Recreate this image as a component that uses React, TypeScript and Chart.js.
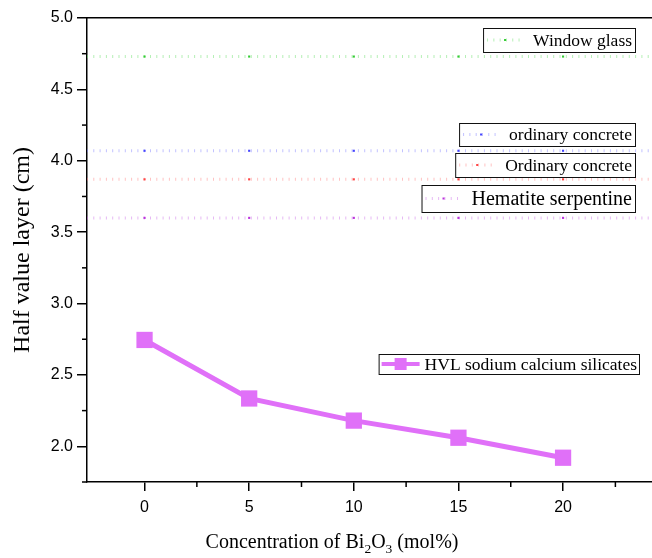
import { useEffect, useRef } from 'react';
import { Chart, registerables } from 'chart.js';

Chart.register(...registerables);

// ---- data ----
const CONCENTRATION = [0, 5, 10, 15, 20];
const HVL_SODIUM_CALCIUM_SILICATES = [2.745, 2.335, 2.18, 2.06, 1.92];

// reference materials (constant HVL), drawn across the whole axis range
const REF_X = [-2.75, 0, 5, 10, 15, 20, 24.25];
const WINDOW_GLASS = [4.73, 4.73, 4.73, 4.73, 4.73, 4.73, 4.73];
const ORDINARY_CONCRETE_A = [4.07, 4.07, 4.07, 4.07, 4.07, 4.07, 4.07];
const ORDINARY_CONCRETE_B = [3.87, 3.87, 3.87, 3.87, 3.87, 3.87, 3.87];
const HEMATITE_SERPENTINE = [3.6, 3.6, 3.6, 3.6, 3.6, 3.6, 3.6];

const X_TICKS = [0, 5, 10, 15, 20];
const X_MINOR = [2.5, 7.5, 12.5, 17.5, 22.5];
const Y_TICKS = [2.0, 2.5, 3.0, 3.5, 4.0, 4.5, 5.0];
const Y_MINOR = [1.75, 2.25, 2.75, 3.25, 3.75, 4.25, 4.75];

const X_MIN = -2.75;
const X_MAX = 24.25;
const Y_MIN = 1.75;
const Y_MAX = 5.0;

const SERIF = '"Liberation Serif", "Times New Roman", serif';
const SANS = '"Liberation Sans", Arial, sans-serif';
const MAGENTA = '#e070f8';

const REF_STYLES = [
  { label: 'Window glass', data: WINDOW_GLASS, line: 'rgba(110,225,110,0.5)', dot: '#33cc33', font: 17.5, top: 28, bottom: 52 },
  { label: 'ordinary concrete', data: ORDINARY_CONCRETE_A, line: 'rgba(120,120,255,0.45)', dot: '#4444ff', font: 17.5, top: 123, bottom: 146 },
  { label: 'Ordinary concrete', data: ORDINARY_CONCRETE_B, line: 'rgba(255,120,120,0.45)', dot: '#ff4444', font: 17.5, top: 153, bottom: 177 },
  { label: 'Hematite serpentine', data: HEMATITE_SERPENTINE, line: 'rgba(200,100,230,0.45)', dot: '#bb33dd', font: 20, top: 185, bottom: 212 },
];

function drawRefLegend(ctx: CanvasRenderingContext2D, s: any, right: number) {
  ctx.save();
  ctx.font = `${s.font}px ${SERIF}`;
  const tw = ctx.measureText(s.label).width;
  const textRight = right - 3;
  const textLeft = textRight - tw;
  const sampleEnd = textLeft - 10;
  const sampleStart = sampleEnd - 36;
  const left = sampleStart - 4;
  const midY = (s.top + s.bottom) / 2;
  ctx.fillStyle = '#fff';
  ctx.fillRect(left, s.top, right - left, s.bottom - s.top);
  ctx.strokeStyle = '#111';
  ctx.lineWidth = 1;
  ctx.strokeRect(left + 0.5, s.top + 0.5, right - left, s.bottom - s.top);
  ctx.setLineDash([1, 5.3]);
  ctx.lineWidth = 3;
  ctx.strokeStyle = s.line;
  ctx.beginPath();
  ctx.moveTo(sampleStart, midY);
  ctx.lineTo(sampleEnd, midY);
  ctx.stroke();
  ctx.setLineDash([]);
  ctx.fillStyle = s.dot;
  ctx.fillRect((sampleStart + sampleEnd) / 2 - 1, midY - 1, 2, 2);
  ctx.fillStyle = '#000';
  ctx.textAlign = 'right';
  ctx.textBaseline = 'middle';
  ctx.fillText(s.label, textRight, midY + 1);
  ctx.restore();
}

function drawHvlLegend(ctx: CanvasRenderingContext2D, right: number, top: number, bottom: number) {
  ctx.save();
  const text = 'HVL sodium calcium silicates';
  ctx.font = `17.5px ${SERIF}`;
  const tw = ctx.measureText(text).width;
  const textRight = right - 2;
  const textLeft = textRight - tw;
  const sampleEnd = textLeft - 5;
  const sampleStart = sampleEnd - 38;
  const left = sampleStart - 3;
  const midY = (top + bottom) / 2;
  ctx.fillStyle = '#fff';
  ctx.fillRect(left, top, right - left, bottom - top);
  ctx.strokeStyle = '#111';
  ctx.lineWidth = 1;
  ctx.strokeRect(left + 0.5, top + 0.5, right - left, bottom - top);
  ctx.strokeStyle = MAGENTA;
  ctx.lineWidth = 4;
  ctx.beginPath();
  ctx.moveTo(sampleStart, midY);
  ctx.lineTo(sampleEnd, midY);
  ctx.stroke();
  ctx.fillStyle = MAGENTA;
  const cx = (sampleStart + sampleEnd) / 2;
  ctx.fillRect(cx - 6, midY - 6, 12, 12);
  ctx.fillStyle = '#000';
  ctx.textAlign = 'right';
  ctx.textBaseline = 'middle';
  ctx.fillText(text, textRight, midY + 1);
  ctx.restore();
}

const decorPlugin = {
  id: 'decor',
  afterDraw(chart: any) {
    const { ctx, chartArea, scales } = chart;
    const xs = scales.x;
    const ys = scales.y;
    ctx.save();
    ctx.strokeStyle = '#000';
    ctx.lineWidth = 1.5;
    // minor ticks
    Y_MINOR.forEach((v) => {
      const py = ys.getPixelForValue(v);
      ctx.beginPath();
      ctx.moveTo(chartArea.left - 5, py);
      ctx.lineTo(chartArea.left, py);
      ctx.stroke();
    });
    X_MINOR.forEach((v) => {
      const px = xs.getPixelForValue(v);
      ctx.beginPath();
      ctx.moveTo(px, chartArea.bottom);
      ctx.lineTo(px, chartArea.bottom + 5);
      ctx.stroke();
    });
    ctx.restore();

    // x-axis title with subscripts
    ctx.save();
    const big = `20px ${SERIF}`;
    const small = `13.5px ${SERIF}`;
    const parts = [
      { t: 'Concentration of Bi', f: big, dy: 0 },
      { t: '2', f: small, dy: 5 },
      { t: 'O', f: big, dy: 0 },
      { t: '3', f: small, dy: 5 },
      { t: ' (mol%)', f: big, dy: 0 },
    ];
    let total = 0;
    parts.forEach((p) => {
      ctx.font = p.f;
      total += ctx.measureText(p.t).width;
    });
    let x = 332 - total / 2;
    const baseY = 548;
    ctx.fillStyle = '#000';
    ctx.textAlign = 'left';
    ctx.textBaseline = 'alphabetic';
    parts.forEach((p) => {
      ctx.font = p.f;
      ctx.fillText(p.t, x, baseY + p.dy);
      x += ctx.measureText(p.t).width;
    });
    ctx.restore();

    // legends
    REF_STYLES.forEach((s) => drawRefLegend(ctx, s, 635));
    drawHvlLegend(ctx, 639, 354, 374);
  },
};

const zeroPad = (s: any) => {
  s.paddingLeft = 0;
  s.paddingRight = 0;
  s.paddingTop = 0;
  s.paddingBottom = 0;
};

export default function App() {
  const ref = useRef<HTMLCanvasElement | null>(null);

  useEffect(() => {
    if (!ref.current) return;
    const refDatasets = REF_STYLES.map((s) => ({
      label: s.label,
      data: REF_X.map((x, i) => ({ x, y: s.data[i] })),
      borderColor: s.line,
      borderWidth: 3,
      borderDash: [1, 5.3],
      pointStyle: 'rect' as const,
      pointRadius: (c: any) => (c.dataIndex === 0 || c.dataIndex === REF_X.length - 1 ? 0 : 1.5),
      pointBackgroundColor: s.dot,
      pointBorderWidth: 0,
      fill: false,
      tension: 0,
    }));
    const chart = new Chart(ref.current, {
      type: 'line',
      data: {
        datasets: [
          ...refDatasets,
          {
            label: 'HVL sodium calcium silicates',
            data: CONCENTRATION.map((x, i) => ({ x, y: HVL_SODIUM_CALCIUM_SILICATES[i] })),
            borderColor: MAGENTA,
            borderWidth: 5,
            pointStyle: 'rect',
            pointRadius: 11.5,
            pointBackgroundColor: MAGENTA,
            pointBorderWidth: 0,
            fill: false,
            tension: 0,
          } as any,
        ],
      },
      options: {
        responsive: false,
        animation: false,
        devicePixelRatio: 1,
        layout: { padding: 0, autoPadding: false },
        plugins: { legend: { display: false }, tooltip: { enabled: false } },
        scales: {
          x: {
            type: 'linear',
            position: 'bottom',
            min: X_MIN,
            max: X_MAX,
            afterBuildTicks: (s: any) => {
              s.ticks = X_TICKS.map((v) => ({ value: v }));
            },
            afterFit: (s: any) => {
              s.height = 76;
              zeroPad(s);
            },
            ticks: {
              color: '#000',
              font: { family: SANS, size: 16 },
              padding: 7,
              maxRotation: 0,
              autoSkip: false,
            },
            grid: { drawOnChartArea: false, drawTicks: true, tickLength: 9, color: '#000', lineWidth: 1.5 },
            border: { color: '#000', width: 1.5 },
          },
          x2: {
            type: 'linear',
            position: 'top',
            min: X_MIN,
            max: X_MAX,
            afterFit: (s: any) => {
              s.height = 18;
              zeroPad(s);
            },
            ticks: { display: false },
            grid: { display: false },
            border: { display: true, color: '#000', width: 1.5 },
          },
          y: {
            type: 'linear',
            position: 'left',
            min: Y_MIN,
            max: Y_MAX,
            afterBuildTicks: (s: any) => {
              s.ticks = Y_TICKS.map((v) => ({ value: v }));
            },
            afterFit: (s: any) => {
              s.width = 87;
              zeroPad(s);
            },
            ticks: {
              color: '#000',
              font: { family: SANS, size: 16 },
              padding: 4,
              callback: (v: any) => Number(v).toFixed(1),
            },
            grid: { drawOnChartArea: false, drawTicks: true, tickLength: 10, color: '#000', lineWidth: 1.5 },
            border: { color: '#000', width: 1.5 },
            title: {
              display: true,
              text: 'Half value layer (cm)',
              color: '#000',
              font: { family: SERIF, size: 24 },
              padding: { top: 8, bottom: 0 },
            },
          },
        },
      },
      plugins: [decorPlugin],
    });
    return () => chart.destroy();
  }, []);

  return (
    <div style={{ position: 'absolute', left: 0, top: 0, width: 652, height: 558, background: '#fff' }}>
      <canvas ref={ref} width={652} height={558} style={{ display: 'block', width: 652, height: 558 }} />
    </div>
  );
}
